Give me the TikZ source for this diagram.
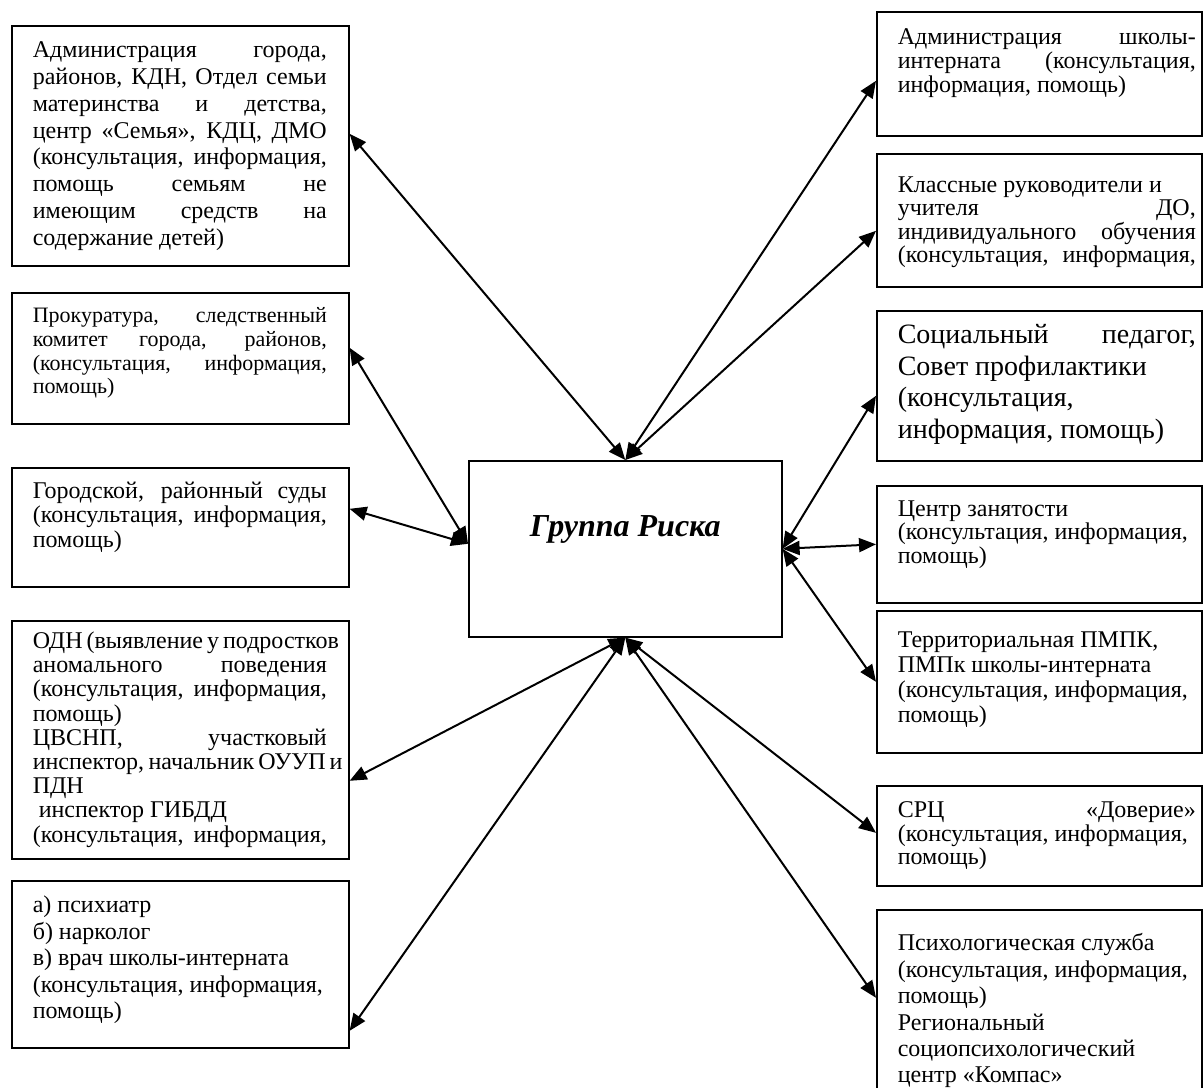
\documentclass[tikz,border=0pt]{standalone}
\usepackage{fontspec}
\setmainfont{Liberation Serif}
\usetikzlibrary{positioning,arrows.meta}

\newcommand{\jl}[1]{\makebox[\linewidth][s]{#1}}
\newcommand{\ltext}[3]{\hspace*{10.5pt}\parbox[t][#1][t]{147pt}{\vspace*{#2}#3}\hspace*{11pt}}
\newcommand{\rtext}[3]{\hspace*{10.5pt}\parbox[t][#1][t]{149pt}{\vspace*{#2}#3}\hspace*{3pt}}

\begin{document}
\begin{tikzpicture}[x=0.5pt, y=-0.5pt,
	infobox/.style={draw, line width=0.8pt, inner sep=0pt, anchor=north west, font=\fontsize{12}{13}\selectfont},
	riskbox/.style={draw, line width=0.8pt, inner sep=0pt, anchor=north west, font=\fontsize{16}{19}\selectfont\bfseries\itshape},
	link/.style={{Triangle[length=8.5pt,width=7pt]}-{Triangle[length=8.5pt,width=7pt]}, line width=1pt},
	]
	\useasboundingbox (0,0) rectangle (1203,1087);
	%Nodes
	\node[riskbox] (grp) at (468,460) {\parbox[t][88pt][t]{156.5pt}{\centering\vspace*{27.5pt}Группа Риска}};

	\node[infobox, font=\fontsize{12}{13.4}\selectfont] (l1) at (11,25) {\ltext{120pt}{8pt}{\jl{Администрация города,}\\ \jl{районов, КДН, Отдел семьи}\\ \jl{материнства и детства,}\\ \jl{центр «Семья», КДЦ, ДМО}\\ \jl{(консультация, информация,}\\ \jl{помощь семьям не}\\ \jl{имеющим средств на}\\ содержание детей)}};
	\node[infobox, font=\fontsize{11}{11.8}\selectfont] (l2) at (11,292) {\ltext{65.5pt}{7.5pt}{\jl{Прокуратура, следственный}\\ \jl{комитет города, районов,}\\ \jl{(консультация, информация,}\\ помощь)}};
	\node[infobox, font=\fontsize{12}{12.2}\selectfont] (l3) at (11,467) {\ltext{59.5pt}{7pt}{\jl{Городской, районный суды}\\ \jl{(консультация, информация,}\\ помощь)}};
	\node[infobox, font=\fontsize{12}{12.1}\selectfont] (l4) at (11,620) {\ltext{119pt}{5.5pt}{\jl{ОДН (выявление у подростков}\\ \jl{аномального поведения}\\ \jl{(консультация, информация,}\\ помощь)\\ \jl{ЦВСНП, участковый}\\ \jl{инспектор, начальник ОУУП и}\\ ПДН\\ \hspace*{3pt}инспектор ГИБДД\\ \jl{(консультация, информация,}}};
	\node[infobox, font=\fontsize{12}{13.3}\selectfont] (l5) at (11,880) {\ltext{83.5pt}{7.5pt}{а) психиатр\\ б) нарколог\\ в) врач школы-интерната\\ (консультация, информация,\\ помощь)}};

	\node[infobox, font=\fontsize{12}{12}\selectfont] (r1) at (876,11) {\rtext{62pt}{8.5pt}{\jl{Администрация школы-}\\ \jl{интерната (консультация,}\\ информация, помощь)}};
	\node[infobox, font=\fontsize{12}{11.7}\selectfont] (r2) at (876,153) {\rtext{66.5pt}{11.5pt}{Классные руководители и\\ \jl{учителя ДО,}\\ \jl{индивидуального обучения}\\ \jl{(консультация, информация,}}};
	\node[infobox, font=\fontsize{14}{15.8}\selectfont] (r3) at (876,310) {\rtext{75pt}{6.75pt}{\jl{Социальный педагог,}\\ Совет профилактики\\ (консультация,\\ информация, помощь)}};
	\node[infobox, font=\fontsize{12}{11.7}\selectfont] (r4) at (876,485) {\rtext{58.5pt}{7.5pt}{Центр занятости\\ (консультация, информация,\\ помощь)}};
	\node[infobox, font=\fontsize{12}{12.5}\selectfont] (r5) at (876,610) {\rtext{71pt}{10.5pt}{Территориальная ПМПК,\\ ПМПк школы-интерната\\ (консультация, информация,\\ помощь)}};
	\node[infobox, font=\fontsize{12}{11.7}\selectfont] (r6) at (876,785) {\rtext{50pt}{8pt}{\jl{СРЦ «Доверие»}\\ (консультация, информация,\\ помощь)}};
	\node[infobox, font=\fontsize{12}{13.2}\selectfont] (r7) at (876,909) {\rtext{95.5pt}{12pt}{Психологическая служба\\ (консультация, информация,\\ помощь)\\ Региональный\\ социопсихологический\\ центр «Компас»}};

	%Lines
	\draw[link] (grp.north) -- ([yshift=6pt]l1.east);
	\draw[link] ([yshift=2.5pt]grp.west) -- ([yshift=5.25pt]l2.east);
	\draw[link] ([yshift=2.5pt]grp.west) -- ([yshift=9.25pt]l3.east);
	\draw[link] (grp.south) -- ([yshift=-20.5pt]l4.east);
	\draw[link] (grp.south) -- ([yshift=-33.25pt]l5.east);
	\draw[link] (grp.north) -- ([yshift=-3.5pt]r1.west);
	\draw[link] (grp.north) -- ([yshift=-5.25pt]r2.west);
	\draw[link] (grp.east) -- ([yshift=-5pt]r3.west);
	\draw[link] (grp.east) -- (r4.west);
	\draw[link] (grp.east) -- (r5.west);
	\draw[link] (grp.south) -- ([yshift=1.5pt]r6.west);
	\draw[link] (grp.south) -- ([yshift=3.75pt]r7.west);
\end{tikzpicture}
\end{document}
